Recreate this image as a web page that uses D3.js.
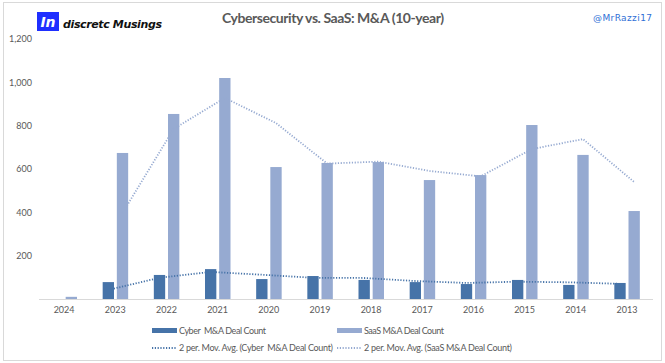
<!DOCTYPE html>
<meta charset="utf-8">
<html lang="en"></html>

<script src="https://d3js.org/d3.v7.min.js"></script>

<style>
  body { margin: 0; background: #fff; }
  svg { display: block; }
</style>

<div id="chart"></div>

<script>

    // chart data
    const years = ["2024", "2023", "2022", "2021", "2020", "2019", "2018", "2017", "2016", "2015", "2014", "2013"];
    const cyberCount = [0, 78, 111, 138, 92, 106, 88, 78, 69, 88, 65, 74];
    const saasCount = [10, 674, 854, 1020, 609, 628, 632, 549, 572, 803, 665, 406];
    // 2 period moving averages as drawn (no point for the first year)
    const cyberAvg = [null, 42, 98, 125, 112, 98, 97, 83, 74, 80, 77, 70];
    const saasAvg = [null, 397, 785, 928, 812, 625, 634, 591, 566, 692, 738, 540];
    const yTicks = [200, 400, 600, 800, 1000, 1200];

    const seriesNames = ["Cyber  M&A Deal Count", "SaaS M&A Deal Count"];
    const avgNames = ["2 per. Mov. Avg. (Cyber  M&A Deal Count)", "2 per. Mov. Avg. (SaaS M&A Deal Count)"];

    const W = 665, H = 363;
    const cyberCol = "#4673a8", saasCol = "#96aad1";
    const font = "Lato, 'Open Sans', sans-serif";

    const svg = d3.select("#chart")
        .append("svg")
            .attr("width", W)
            .attr("height", H);

    // frame
    svg.append("rect")
        .attr("x", 3.5).attr("y", 2.5)
        .attr("width", 658).attr("height", 358)
        .attr("fill", "#fff")
        .attr("stroke", "#d9d9d9");

    // logo
    svg.append("rect")
        .attr("x", 37).attr("y", 12)
        .attr("width", 22).attr("height", 19)
        .attr("fill", "#1f2fff");
    svg.append("text")
        .text("In")
        .attr("x", 48).attr("y", 27)
        .attr("text-anchor", "middle")
        .attr("fill", "#fff")
        .style("font-family", "'DejaVu Sans', sans-serif")
        .style("font-weight", "bold")
        .style("font-style", "italic")
        .style("font-size", "14px");
    svg.append("text")
        .text("discretc Musings")
        .attr("x", 63).attr("y", 28)
        .attr("fill", "#111")
        .attr("textLength", 99)
        .style("font-family", "'DejaVu Sans', sans-serif")
        .style("font-weight", "bold")
        .style("font-style", "italic")
        .style("font-size", "11px");

    // title
    svg.append("text")
        .text("Cybersecurity vs. SaaS: M&A (10-year)")
        .attr("x", 222).attr("y", 23)
        .attr("fill", "#595959")
        .attr("textLength", 222)
        .style("font-family", font)
        .style("font-weight", "bold")
        .style("font-size", "14px");

    svg.append("text")
        .text("@MrRazzi17")
        .attr("x", 593).attr("y", 21)
        .attr("fill", "#2f6fd6")
        .attr("textLength", 59)
        .style("font-family", "'DejaVu Sans', sans-serif")
        .style("font-size", "9px");

    // scales
    const x = d3.scaleBand()
        .domain(years)
        .range([38.5, 652.5]);
    const x1 = d3.scaleBand()
        .domain(["cyber", "saas"])
        .range([13, 38.5])
        .paddingInner(0.2);
    const y = d3.scaleLinear()
        .domain([0, 1200])
        .range([299, 39]);

    // y axis labels
    const yAxis = svg.append("g")
        .attr("transform", "translate(32,0)")
        .call(d3.axisLeft(y).tickValues(yTicks).tickFormat(d3.format(",")).tickSize(0).tickPadding(0));
    yAxis.select(".domain").remove();
    yAxis.selectAll("text")
        .attr("fill", "#595959")
        .style("font-family", font)
        .style("font-size", "9px");

    // bars
    svg.append("g").selectAll("rect")
        .data(years.map(function(d, i) { return {year: d, v: cyberCount[i]}; }))
        .enter()
        .append("rect")
            .attr("x", function(d) { return x(d.year) + x1("cyber"); })
            .attr("y", function(d) { return y(d.v); })
            .attr("width", x1.bandwidth())
            .attr("height", function(d) { return y(0) - y(d.v); })
            .attr("fill", cyberCol);
    svg.append("g").selectAll("rect")
        .data(years.map(function(d, i) { return {year: d, v: saasCount[i]}; }))
        .enter()
        .append("rect")
            .attr("x", function(d) { return x(d.year) + x1("saas"); })
            .attr("y", function(d) { return y(d.v); })
            .attr("width", x1.bandwidth())
            .attr("height", function(d) { return y(0) - y(d.v); })
            .attr("fill", saasCol);

    // x axis
    const xAxis = svg.append("g")
        .attr("transform", "translate(0," + y(0) + ")")
        .call(d3.axisBottom(x).tickSize(0).tickPadding(8));
    xAxis.select(".domain")
        .attr("stroke", "#d9d9d9");
    xAxis.selectAll("text")
        .attr("fill", "#595959")
        .style("font-family", font)
        .style("font-size", "9px");

    // moving average lines
    function avgLine(vals, key) {
        return d3.line()
            .defined(function(d) { return d !== null; })
            .x(function(d, i) { return x(years[i]) + x1(key) + x1.bandwidth() / 2; })
            .y(function(d) { return y(d); })(vals);
    }
    svg.append("path")
        .attr("d", avgLine(saasAvg, "saas"))
        .attr("fill", "none")
        .attr("stroke", saasCol)
        .attr("stroke-width", 1.8)
        .attr("stroke-dasharray", "1.2 1.6");
    svg.append("path")
        .attr("d", avgLine(cyberAvg, "cyber"))
        .attr("fill", "none")
        .attr("stroke", cyberCol)
        .attr("stroke-width", 1.8)
        .attr("stroke-dasharray", "1.2 1.6");

    // legend
    const legX = [152, 337];
    const colors = [cyberCol, saasCol];
    const nameLen = [87, 80];
    const avgLen = [154, 148];
    seriesNames.forEach(function(name, i) {
        svg.append("rect")
            .attr("x", legX[i]).attr("y", 328)
            .attr("width", 25).attr("height", 5)
            .attr("fill", colors[i]);
        svg.append("text")
            .text(name)
            .attr("x", legX[i] + 27).attr("y", 334)
            .attr("fill", "#595959")
            .attr("textLength", nameLen[i])
            .style("white-space", "pre")
            .style("font-family", font)
            .style("font-size", "9px");
    });
    avgNames.forEach(function(name, i) {
        svg.append("line")
            .attr("x1", legX[i]).attr("x2", legX[i] + 25)
            .attr("y1", 348).attr("y2", 348)
            .attr("stroke", colors[i])
            .attr("stroke-width", 1.8)
            .attr("stroke-dasharray", "1.2 1.6");
        svg.append("text")
            .text(name)
            .attr("x", legX[i] + 27).attr("y", 351)
            .attr("fill", "#595959")
            .attr("textLength", avgLen[i])
            .style("white-space", "pre")
            .style("font-family", font)
            .style("font-size", "9px");
    });
</script>
